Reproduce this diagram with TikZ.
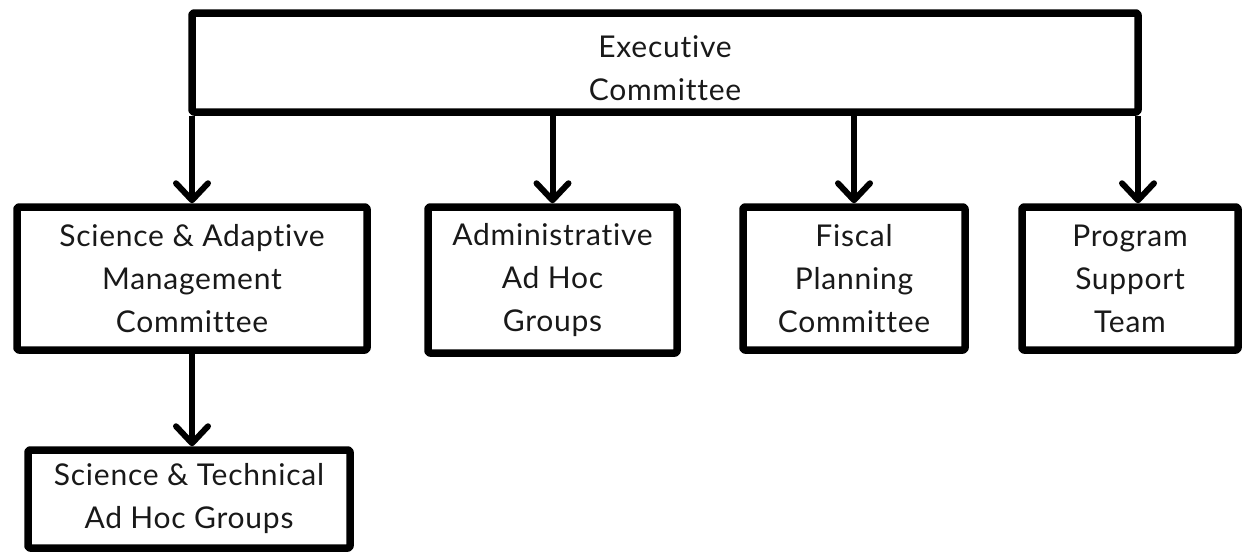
\documentclass[tikz,border=0pt]{standalone}
\usepackage{fontspec}
\setmainfont[Ligatures=NoCommon,LetterSpace=2.5]{Lato}
\usetikzlibrary{arrows.meta}
\begin{document}
\begin{tikzpicture}[x=1pt,y=1pt,
  box/.style={draw=black, line width=7.5pt, rounded corners=2pt, line join=round,
    align=center, inner sep=0pt, font=\fontsize{30}{43}\selectfont, text=black!90},
  link/.style={line width=6pt, -{Straight Barb[length=17pt,width=32pt,line width=6pt,round]}}
]
\useasboundingbox (0,0) rectangle (1248,-552);
\fill[white] (0,0) rectangle (1248,-552);
\node[box, outer xsep=0pt, minimum width=946pt, minimum height=99pt] (exec) at (665,-62.5) {\rule{0pt}{33pt}Executive\\Committee};
\node[box, minimum width=350pt, minimum height=143pt] (sam) at (192,-278.5) {Science \& Adaptive\\Management\\Committee};
\node[box, minimum width=249pt, minimum height=146pt] (adm) at (552.5,-280) {Administrative\\Ad Hoc\\Groups};
\node[box, minimum width=222pt, minimum height=143pt] (fis) at (854,-278.5) {Fiscal\\Planning\\Committee};
\node[box, minimum width=216pt, minimum height=143pt] (pst) at (1130,-278.5) {Program\\Support\\Team};
\node[box, minimum width=322pt, minimum height=98pt] (sta) at (189,-499) {Science \& Technical\\Ad Hoc Groups};
\draw[link] (exec.south west) -- (exec.south west |- sam.north);
\draw[link] (exec.south -| adm.north) -- (adm.north);
\draw[link] (exec.south -| fis.north) -- (fis.north);
\draw[link] (exec.south east) -- (exec.south east |- pst.north);
\draw[link] (sam.south) -- (sam.south |- sta.north);
\end{tikzpicture}
\end{document}
